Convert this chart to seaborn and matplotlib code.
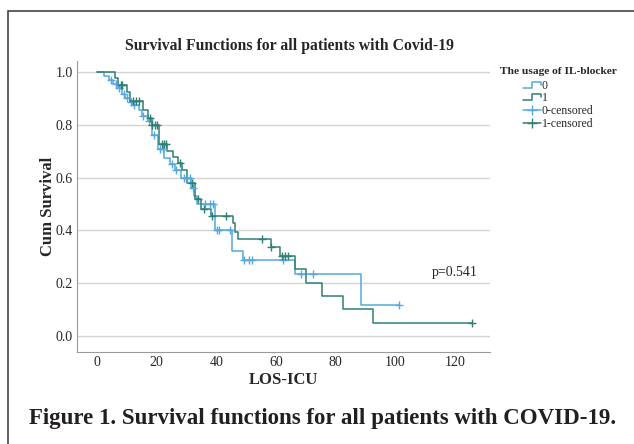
import numpy as np
import pandas as pd
import matplotlib
matplotlib.use("Agg")
import matplotlib.pyplot as plt
import seaborn as sns
from matplotlib.lines import Line2D
from matplotlib.patches import Rectangle
from matplotlib.legend_handler import HandlerBase

# =========================
# DATA
# =========================

# group 0 (no IL-blocker) : step times and survival after each step
time_0 = [0, 2.5, 4.0, 5.5, 7.0, 8.5, 9.5, 11, 12, 14, 15, 17, 18.5, 20.5,
          22.5, 24.5, 26, 28, 31.5, 32.5, 33.5, 39.6, 45.2, 48.8, 66.2,
          88.3, 101.3]
surv_0 = [1.0, 0.985, 0.97, 0.955, 0.94, 0.915, 0.90, 0.885, 0.875, 0.855,
          0.835, 0.815, 0.76, 0.71, 0.673, 0.65, 0.629, 0.60, 0.56, 0.53,
          0.50, 0.40, 0.322, 0.288, 0.235, 0.117, 0.117]
cens_0 = [4.7, 6.5, 7.5, 9, 10, 11.5, 12.5, 15.5, 17.5, 19, 21, 22, 25,
          26.5, 29, 30, 31, 32, 36.2, 38, 39, 40.1, 41, 44.5, 49.2, 51, 52,
          62.2, 68.3, 72.2, 101.3]

# group 1 (IL-blocker)
time_1 = [0, 6, 7, 10, 11, 15.5, 17, 18.5, 20.6, 23.4, 25.6, 27, 28.5, 30,
          32.9, 35, 38.1, 45.4, 46.2, 47.2, 58.3, 61.3, 66.2, 70.0, 75.3,
          82.3, 92.4, 125.6]
surv_1 = [1.0, 0.976, 0.952, 0.925, 0.89, 0.856, 0.825, 0.80, 0.727, 0.70,
          0.68, 0.655, 0.63, 0.578, 0.52, 0.48, 0.455, 0.427, 0.395, 0.366,
          0.336, 0.304, 0.254, 0.203, 0.152, 0.102, 0.051, 0.051]
cens_1 = [8, 8.5, 12, 13, 14, 17.8, 18.5, 19.5, 20, 21.8, 22.5, 23, 27.8,
          31.7, 34, 36, 38.5, 43.3, 55.2, 58.3, 62, 63, 64, 125.6]

groups = ["0", "1"]
colors = {"0": "#55a9e0", "1": "#2f7f73"}
p_text = "p=0.541"

# =========================
# BUILD TABLES
# =========================

steps = pd.concat([
    pd.DataFrame({"time": time_0, "surv": surv_0, "group": "0"}),
    pd.DataFrame({"time": time_1, "surv": surv_1, "group": "1"}),
])


def surv_at(t, times, survs):
    i = np.searchsorted(times, t, side="right") - 1
    return survs[i]


cens = pd.concat([
    pd.DataFrame({"time": cens_0,
                  "surv": [surv_at(t, time_0, surv_0) for t in cens_0],
                  "group": "0"}),
    pd.DataFrame({"time": cens_1,
                  "surv": [surv_at(t, time_1, surv_1) for t in cens_1],
                  "group": "1"}),
])


# small step icon for the legend
class StepHandler(HandlerBase):
    def create_artists(self, legend, orig_handle, xdescent, ydescent,
                       width, height, fontsize, trans):
        xs = [0, 0.5 * width, 0.5 * width, width, width]
        ys = [0.15 * height, 0.15 * height, 0.85 * height, 0.85 * height,
              0.5 * height]
        line = Line2D(xs, ys, color=orig_handle.get_color(),
                      linewidth=orig_handle.get_linewidth(), transform=trans)
        return [line]


# =========================
# PLOT
# =========================

sns.set_style("white")
plt.rcParams["font.family"] = ["Liberation Serif", "DejaVu Serif"]

fig = plt.figure(figsize=(6.34, 4.44), dpi=100)
ax = fig.add_axes([0.1215, 0.2072, 0.6515, 0.6545])

for g in groups:
    sns.lineplot(data=steps[steps.group == g], x="time", y="surv",
                 drawstyle="steps-post", color=colors[g], linewidth=1.1,
                 estimator=None, sort=False, ax=ax)
    sns.scatterplot(data=cens[cens.group == g], x="time", y="surv",
                    marker="+", s=30, linewidth=1.0, color=colors[g],
                    ax=ax, zorder=3)

ax.set_xlim(-6.7, 131.7)
ax.set_ylim(-0.06, 1.04)
ax.set_xticks([0, 20, 40, 60, 80, 100, 120])
ax.set_yticks([0.0, 0.2, 0.4, 0.6, 0.8, 1.0])
ax.set_yticklabels(["0.0", "0.2", "0.4", "0.6", "0.8", "1.0"])
ax.tick_params(length=0, labelsize=10, pad=3)
ax.grid(axis="y", color="#d4d4d4", linewidth=1)
ax.set_axisbelow(True)
for s in ["top", "right"]:
    ax.spines[s].set_visible(False)
for s in ["left", "bottom"]:
    ax.spines[s].set_color("#9a9a9a")

ax.set_xlabel("LOS-ICU", fontsize=12, fontweight="bold", labelpad=2)
ax.set_ylabel("Cum Survival", fontsize=12, fontweight="bold", labelpad=0)
ax.set_title("Survival Functions for all patients with Covid-19",
             fontsize=11.3, fontweight="bold", pad=8, x=0.515)

ax.text(112.3, 0.24, p_text, fontsize=10, va="center")

# legend
handles = [
    Line2D([], [], color=colors["0"], linewidth=1.1),
    Line2D([], [], color=colors["1"], linewidth=1.1),
    Line2D([], [], color=colors["0"], linewidth=1.1, marker="+", markersize=7),
    Line2D([], [], color=colors["1"], linewidth=1.1, marker="+", markersize=7),
]
labels = ["0", "1", "0-censored", "1-censored"]
leg = fig.legend(handles, labels, title="The usage of IL-blocker",
                 loc="upper left", bbox_to_anchor=(0.779, 0.863),
                 frameon=False, fontsize=8.5, handlelength=1.5,
                 handletextpad=0.1, labelspacing=0.05, borderpad=0,
                 handler_map={handles[0]: StepHandler(),
                              handles[1]: StepHandler()},
                 title_fontproperties={"weight": "bold", "size": 8.2})
leg._legend_box.sep = 3

# outer frame
fig.patches.append(Rectangle((8 / 634, -0.05), 1.1, 1 - 11 / 444 + 0.05,
                             transform=fig.transFigure, fill=False,
                             edgecolor="#444444", linewidth=1.2))

fig.text(0.509, 1 - 418 / 444,
         "Figure 1. Survival functions for all patients with COVID-19.",
         ha="center", va="center", fontsize=16.5, fontweight="bold",
         color="#231f20")

fig.savefig("out.png", dpi=100)
